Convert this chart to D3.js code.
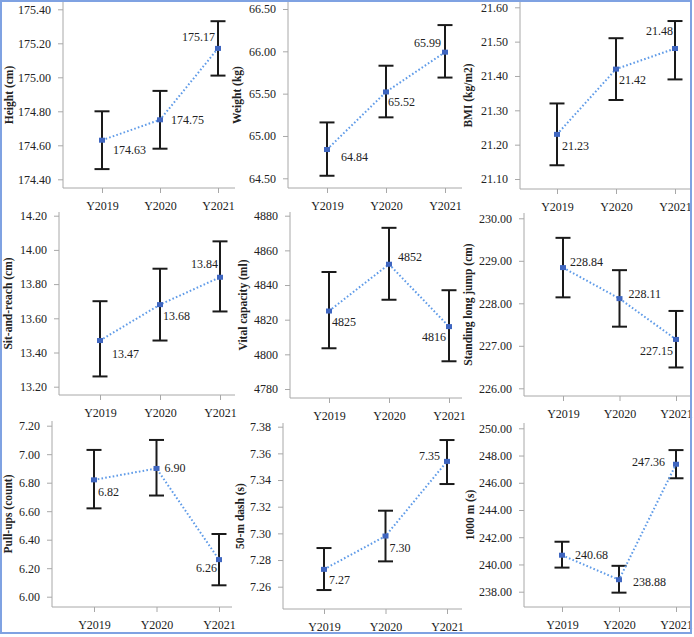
<!DOCTYPE html>
<html>
<head>
<meta charset="utf-8">
<style>
  body { margin: 0; background: #fff; }
  text { font-family: "Liberation Serif", "Times New Roman", serif; fill: #222; }
  .title { font-weight: bold; font-size: 11.5px; }
</style>
<script src="https://d3js.org/d3.v7.min.js"></script>
</head>
<body>
<script>
// categories
var years = ["Y2019", "Y2020", "Y2021"];

// means and 95% CI bounds
var heightMean = [174.63, 174.75, 175.17];
var heightLo   = [174.46, 174.58, 175.01];
var heightHi   = [174.80, 174.92, 175.33];
var heightTicks = [174.40, 174.60, 174.80, 175.00, 175.20, 175.40];

var weightMean = [64.84, 65.52, 65.99];
var weightLo   = [64.53, 65.22, 65.69];
var weightHi   = [65.16, 65.83, 66.31];
var weightTicks = [64.50, 65.00, 65.50, 66.00, 66.50];

var bmiMean = [21.23, 21.42, 21.48];
var bmiLo   = [21.14, 21.33, 21.39];
var bmiHi   = [21.32, 21.51, 21.56];
var bmiTicks = [21.10, 21.20, 21.30, 21.40, 21.50, 21.60];

var sitMean = [13.47, 13.68, 13.84];
var sitLo   = [13.26, 13.47, 13.64];
var sitHi   = [13.70, 13.89, 14.05];
var sitTicks = [13.20, 13.40, 13.60, 13.80, 14.00, 14.20];

var vitalMean = [4825, 4852, 4816];
var vitalLo   = [4803.5, 4831.5, 4796];
var vitalHi   = [4847.5, 4873, 4837];
var vitalTicks = [4780, 4800, 4820, 4840, 4860, 4880];

var jumpMean = [228.84, 228.11, 227.15];
var jumpLo   = [228.14, 227.45, 226.49];
var jumpHi   = [229.54, 228.78, 227.82];
var jumpTicks = [226.00, 227.00, 228.00, 229.00, 230.00];

var pullMean = [6.82, 6.90, 6.26];
var pullLo   = [6.62, 6.71, 6.08];
var pullHi   = [7.03, 7.10, 6.44];
var pullTicks = [6.00, 6.20, 6.40, 6.60, 6.80, 7.00, 7.20];

var dashMean = [7.273, 7.298, 7.354];
var dashLo   = [7.2575, 7.279, 7.337];
var dashHi   = [7.289, 7.317, 7.370];
var dashTicks = [7.26, 7.28, 7.30, 7.32, 7.34, 7.36, 7.38];

var runMean = [240.68, 238.88, 247.36];
var runLo   = [239.77, 237.93, 246.33];
var runHi   = [241.67, 239.90, 248.40];
var runTicks = [238.00, 240.00, 242.00, 244.00, 246.00, 248.00, 250.00];

var titles = ["Height (cm)", "Weight (kg)", "BMI (kg/m2)",
              "Sit-and-reach (cm)", "Vital capacity (ml)", "Standing long jump (cm)",
              "Pull-ups (count)", "50-m dash (s)", "1000 m (s)"];

var panels = [
  {title: titles[0], mean: heightMean, lo: heightLo, hi: heightHi, ticks: heightTicks, fmt: ".2f"},
  {title: titles[1], mean: weightMean, lo: weightLo, hi: weightHi, ticks: weightTicks, fmt: ".2f"},
  {title: titles[2], mean: bmiMean, lo: bmiLo, hi: bmiHi, ticks: bmiTicks, fmt: ".2f"},
  {title: titles[3], mean: sitMean, lo: sitLo, hi: sitHi, ticks: sitTicks, fmt: ".2f"},
  {title: titles[4], mean: vitalMean, lo: vitalLo, hi: vitalHi, ticks: vitalTicks, fmt: ".0f"},
  {title: titles[5], mean: jumpMean, lo: jumpLo, hi: jumpHi, ticks: jumpTicks, fmt: ".2f"},
  {title: titles[6], mean: pullMean, lo: pullLo, hi: pullHi, ticks: pullTicks, fmt: ".2f"},
  {title: titles[7], mean: dashMean, lo: dashLo, hi: dashHi, ticks: dashTicks, fmt: ".2f"},
  {title: titles[8], mean: runMean, lo: runLo, hi: runHi, ticks: runTicks, fmt: ".2f"}
];

// panel frames (pixels): y-axis x, first/last category x, x-axis end,
// axis top/bottom, pixel of lowest/highest tick, title x
var frames = [
  {ax: 63,  x0: 102, x2: 218, xr: 235, yt: 2,   yb: 188, p0: 179.3, p1: 9.3,   tx: 9},
  {ax: 288, x0: 327, x2: 445, xr: 462, yt: 2,   yb: 188, p0: 178.3, p1: 9,     tx: 237},
  {ax: 520, x0: 557, x2: 675, xr: 690, yt: 2,   yb: 189, p0: 179,   p1: 7.3,   tx: 468},
  {ax: 59,  x0: 100, x2: 220, xr: 235, yt: 212, yb: 395, p0: 386.7, p1: 215.7, tx: 8},
  {ax: 290, x0: 329, x2: 449, xr: 462, yt: 212, yb: 398, p0: 389,   p1: 215.7, tx: 243},
  {ax: 524, x0: 563, x2: 676, xr: 690, yt: 213, yb: 396, p0: 388.3, p1: 218.3, tx: 468},
  {ax: 52,  x0: 94,  x2: 219, xr: 232, yt: 421, yb: 607, p0: 596.7, p1: 425.7, tx: 8},
  {ax: 283, x0: 324, x2: 447, xr: 462, yt: 423, yb: 609, p0: 586.7, p1: 426.7, tx: 240},
  {ax: 524, x0: 562, x2: 676, xr: 690, yt: 423, yb: 607, p0: 591.7, p1: 428.3, tx: 470}
];

// label offsets from each mean marker: [dx, dy, anchor]
var labelPos = [
  [[11, 10, "start"], [11, 0, "start"], [-3, -11, "end"]],
  [[14, 7, "start"], [2, 10, "start"], [-4, -9, "end"]],
  [[5, 12, "start"], [3, 11, "start"], [-2, -18, "end"]],
  [[12, 13, "start"], [3, 11, "start"], [-2, -13, "end"]],
  [[3, 11, "start"], [9, -7, "start"], [-3, 10, "end"]],
  [[7, -6, "start"], [9, -5, "start"], [-3, 12, "end"]],
  [[4, 12, "start"], [8, 0, "start"], [-2, 8, "end"]],
  [[5, 11, "start"], [4, 12, "start"], [-7, -5, "end"]],
  [[13, 0, "start"], [14, 2, "start"], [-11, -2, "end"]]
];

var svg = d3.select("body").append("svg")
  .attr("width", 694).attr("height", 637);

svg.append("rect").attr("width", 694).attr("height", 637).attr("fill", "#fff");

panels.forEach(function (p, i) {
  var f = frames[i];
  var g = svg.append("g");
  var x = d3.scalePoint().domain(years).range([f.x0, f.x2]);
  var y = d3.scaleLinear()
    .domain([p.ticks[0], p.ticks[p.ticks.length - 1]])
    .range([f.p0, f.p1]);

  // y axis
  var ya = g.append("g").attr("transform", "translate(" + f.ax + ",0)")
    .call(d3.axisLeft(y).tickValues(p.ticks).tickFormat(d3.format(p.fmt))
      .tickSize(5).tickPadding(7));
  ya.select(".domain").remove();
  g.append("line").attr("x1", f.ax).attr("x2", f.ax)
    .attr("y1", f.yt).attr("y2", f.yb).attr("stroke", "#a8a8a8");

  // x axis
  var xa = g.append("g").attr("transform", "translate(0," + f.yb + ")")
    .call(d3.axisBottom(x).tickSize(5).tickPadding(8));
  xa.select(".domain").remove();
  g.append("line").attr("x1", f.ax).attr("x2", f.xr)
    .attr("y1", f.yb).attr("y2", f.yb).attr("stroke", "#a8a8a8");

  g.selectAll(".tick line").attr("stroke", "#a8a8a8");
  g.selectAll(".tick text").attr("font-size", 12)
    .attr("font-family", "Liberation Serif").attr("fill", "#222");

  // axis title
  g.append("text").attr("class", "title")
    .attr("transform", "translate(" + f.tx + "," + ((f.yt + f.yb) / 2) + ") rotate(-90)")
    .attr("text-anchor", "middle").attr("dominant-baseline", "central")
    .text(p.title);

  // error bars
  years.forEach(function (c, j) {
    var cx = x(c);
    g.append("line").attr("x1", cx).attr("x2", cx)
      .attr("y1", y(p.lo[j])).attr("y2", y(p.hi[j]))
      .attr("stroke", "#1a1a1a").attr("stroke-width", 2);
    [p.lo[j], p.hi[j]].forEach(function (v) {
      g.append("line").attr("x1", cx - 7.5).attr("x2", cx + 7.5)
        .attr("y1", y(v)).attr("y2", y(v))
        .attr("stroke", "#1a1a1a").attr("stroke-width", 2);
    });
  });

  // dotted mean line
  var line = d3.line()
    .x(function (d, j) { return x(years[j]); })
    .y(function (d) { return y(d); });
  g.append("path").datum(p.mean).attr("d", line)
    .attr("fill", "none").attr("stroke", "#5f9be8")
    .attr("stroke-width", 2).attr("stroke-dasharray", "1.6,2.2");

  // mean markers
  g.selectAll(".mk").data(p.mean).enter().append("rect")
    .attr("x", function (d, j) { return x(years[j]) - 3; })
    .attr("y", function (d) { return y(d) - 2.5; })
    .attr("width", 6).attr("height", 5)
    .attr("fill", "#3f66c0");

  // value labels
  g.selectAll(".lbl").data(p.mean).enter().append("text")
    .attr("x", function (d, j) { return x(years[j]) + labelPos[i][j][0]; })
    .attr("y", function (d, j) { return y(d) + labelPos[i][j][1]; })
    .attr("text-anchor", function (d, j) { return labelPos[i][j][2]; })
    .attr("dominant-baseline", "central")
    .attr("font-size", 12)
    .text(function (d) { return d3.format(p.fmt)(d); });
});

// outer frame
svg.append("rect").attr("x", 1).attr("y", 1).attr("width", 690).attr("height", 632)
  .attr("fill", "none").attr("stroke", "#7fa2e2").attr("stroke-width", 2);
</script>
</body>
</html>
